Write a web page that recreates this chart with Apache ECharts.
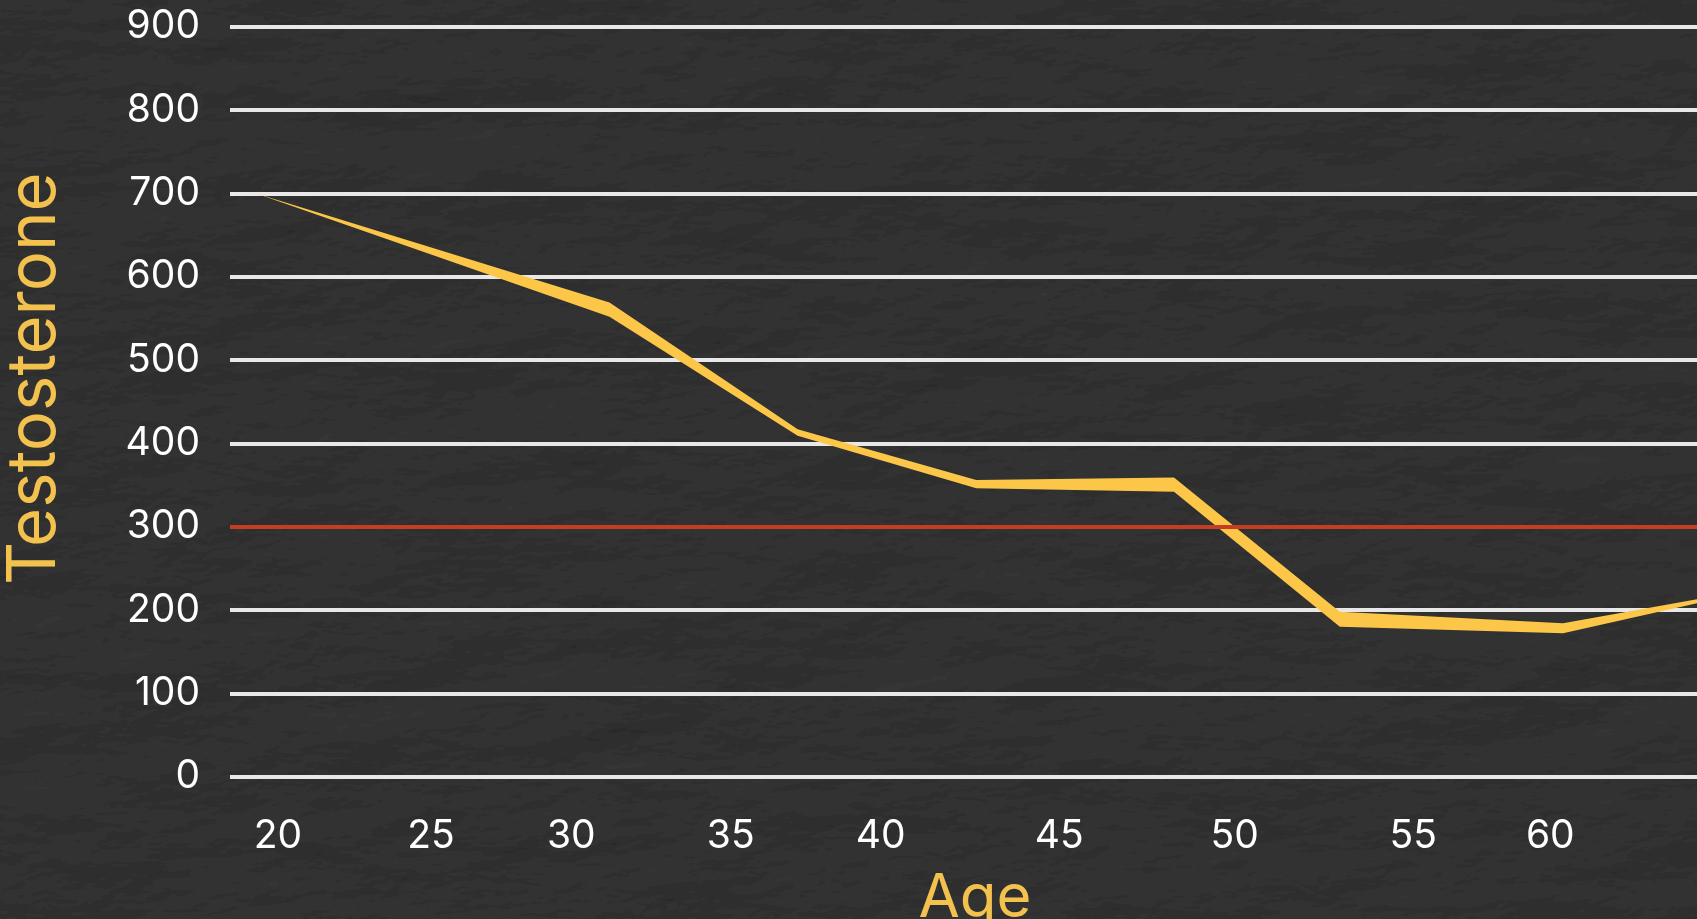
<!DOCTYPE html>
<html>
<head>
<meta charset="utf-8">
<title>Testosterone by Age</title>
<script src="https://cdn.jsdelivr.net/npm/echarts@6/dist/echarts.min.js"></script>
<style>
  html, body { margin: 0; padding: 0; width: 100%; height: 100%; overflow: hidden; background: #232323; }
  #paper { position: absolute; left: 0; top: 0; width: 1697px; height: 919px; }
  #chart { position: absolute; left: 0; top: 0; width: 1697px; height: 919px; }
</style>
</head>
<body>
<!-- crumpled dark paper backdrop -->
<svg id="paper" xmlns="http://www.w3.org/2000/svg" width="1697" height="919">
  <filter id="crumple" x="0" y="0" width="100%" height="100%">
    <feTurbulence type="fractalNoise" baseFrequency="0.006 0.014" numOctaves="5" seed="11" result="noise"/>
    <feDiffuseLighting in="noise" lighting-color="#383838" surfaceScale="4" result="lit">
      <feDistantLight azimuth="235" elevation="50"/>
    </feDiffuseLighting>
  </filter>
  <rect width="1697" height="919" fill="#232323"/>
  <rect width="1697" height="919" filter="url(#crumple)"/>
</svg>
<div id="chart"></div>
<script>
// Age axis labels and where they sit along the age scale
const ageTickLabels = ['20', '25', '30', '35', '40', '45', '50', '55', '60'];
const ageTickAt = [20, 24.8, 29.2, 34.2, 38.9, 44.5, 50, 55.6, 59.9];

// Testosterone curve: bend points of the brush stroke (lower and upper edge)
const ages = [19.3, 30.4, 36.3, 41.9, 48.1, 53.3, 60.3, 64.5];
const levelLow = [700, 552, 409, 346, 342, 180, 172, 208];
const levelHigh = [700, 569, 417, 356, 359, 198, 184, 213];

// Low-testosterone threshold
const threshold = 300;

const yMin = 0, yMax = 900, yStep = 100;

const YELLOW = '#FCC648';
const TITLE_YELLOW = '#F2C14E';
const FONT = 'Inter, "Noto Sans", sans-serif';

const chart = echarts.init(document.getElementById('chart'), null, { renderer: 'canvas' });

chart.setOption({
  backgroundColor: 'transparent',
  animation: false,
  grid: {
    left: 230, right: 0, top: 26.7, bottom: 142.3,
    containLabel: false,
    outerBoundsMode: 'none'
  },
  xAxis: {
    type: 'value',
    min: 18.5,
    max: 64.5,
    name: 'Age',
    nameLocation: 'middle',
    nameGap: 92,
    nameTextStyle: { color: TITLE_YELLOW, fontSize: 60, fontFamily: FONT, padding: [0, 0, 0, 23] },
    axisLine: { show: false },
    axisTick: { show: false },
    splitLine: { show: false },
    axisLabel: {
      customValues: ageTickAt,
      formatter: (v) => ageTickLabels[ageTickAt.indexOf(v)] ?? '',
      color: '#ffffff',
      fontSize: 39,
      fontFamily: FONT,
      margin: 40
    }
  },
  yAxis: {
    type: 'value',
    min: yMin,
    max: yMax,
    interval: yStep,
    name: 'Testosterone',
    nameLocation: 'middle',
    nameRotate: 90,
    nameGap: 162,
    nameTextStyle: { color: TITLE_YELLOW, fontSize: 67, fontFamily: FONT, padding: [0, 0, 0, 46] },
    axisLine: { show: false },
    axisTick: { show: false },
    axisLabel: { color: '#ffffff', fontSize: 39, fontFamily: FONT, margin: 30 },
    splitLine: { show: true, lineStyle: { color: '#e8e8e8', width: 3.8 } }
  },
  series: [
    {
      type: 'line',
      data: [],
      z: 1,
      markLine: {
        silent: true,
        symbol: 'none',
        label: { show: false },
        lineStyle: { color: '#C53D24', width: 4, type: 'solid' },
        data: [{ yAxis: threshold }]
      }
    },
    {
      type: 'custom',
      z: 3,
      data: ages.map((a, i) => [a, levelLow[i], levelHigh[i]]),
      encode: { x: 0, y: [1, 2] },
      renderItem: function (params, api) {
        if (params.dataIndex !== 0) return null;
        const top = ages.map((a, i) => api.coord([a, levelHigh[i]]));
        const bottom = ages.map((a, i) => api.coord([a, levelLow[i]])).reverse();
        return {
          type: 'polygon',
          shape: { points: top.concat(bottom) },
          style: { fill: YELLOW }
        };
      }
    }
  ]
});
</script>
</body>
</html>
